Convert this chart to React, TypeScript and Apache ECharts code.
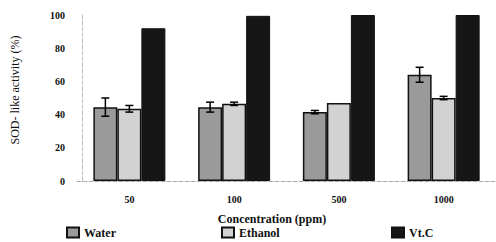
import React, { useEffect, useRef } from "react";
import * as echarts from "echarts";

const categories = ["50", "100", "500", "1000"];
const seriesNames = ["Water", "Ethanol", "Vt.C"];
const waterValues = [44.5, 44.5, 41.5, 64];
const ethanolValues = [43.5, 46.5, 47, 50];
const vtcValues = [92, 99.5, 100, 100];
const waterErrors = [5.5, 3, 1, 4.5];
const ethanolErrors = [2, 1, 0, 1];
const yTicks = [0, 20, 40, 60, 80, 100];

const SERIF = "'Liberation Serif', 'DejaVu Serif', serif";

export default function App() {
  const ref = useRef<HTMLDivElement>(null);
  useEffect(() => {
    document.body.style.margin = "0";
    const chart = echarts.init(ref.current!, null, { renderer: "svg" });
    const barW = 24;
    const errSeries = (vals: number[], errs: number[], offset: number) => ({
      type: "custom",
      silent: true,
      z: 10,
      data: vals.map((v, i) => [i, v, errs[i]]),
      renderItem: (params: any, api: any) => {
        const i = api.value(0);
        const v = api.value(1);
        const e = api.value(2);
        if (!e) return null;
        const top = api.coord([i, v + e]);
        const bot = api.coord([i, v - e]);
        const x = top[0] + offset;
        const cap = 4;
        const style = { stroke: "#000", lineWidth: 1.5 };
        return {
          type: "group",
          children: [
            { type: "line", shape: { x1: x, y1: top[1], x2: x, y2: bot[1] }, style },
            { type: "line", shape: { x1: x - cap, y1: top[1], x2: x + cap, y2: top[1] }, style },
            { type: "line", shape: { x1: x - cap, y1: bot[1], x2: x + cap, y2: bot[1] }, style },
          ],
        };
      },
    });
    const legendCommon = {
      top: 226,
      padding: 0,
      itemWidth: 12,
      itemHeight: 10,
      itemGap: 6,
      textStyle: { fontFamily: SERIF, fontWeight: "bold", fontSize: 12, lineHeight: 13, color: "#111" },
      icon: "rect",
    };
    chart.setOption({
      animation: false,
      backgroundColor: "#fff",
      grid: { left: 77, right: -3, top: 15, bottom: 61 },
      legend: [
        { ...legendCommon, left: 66, data: [seriesNames[0]] },
        { ...legendCommon, left: 221, data: [seriesNames[1]] },
        { ...legendCommon, left: 391, data: [seriesNames[2]] },
      ],
      xAxis: {
        type: "category",
        data: categories,
        axisLine: { show: true, lineStyle: { color: "#aaa", type: "dashed", width: 1 } },
        axisTick: { show: false },
        axisLabel: { margin: 13, fontFamily: SERIF, fontWeight: "bold", fontSize: 10, color: "#111" },
      },
      yAxis: {
        type: "value",
        min: 0,
        max: 100,
        interval: 20,
        offset: -5,
        axisLine: { show: true, lineStyle: { color: "#bbb", type: "dashed", width: 1 } },
        axisTick: { show: false },
        splitLine: { show: false },
        axisLabel: {
          margin: 17,
          fontFamily: SERIF,
          fontWeight: "bold",
          fontSize: 10,
          color: "#111",
          formatter: (v: number) => (yTicks.includes(v) ? String(v) : ""),
        },
      },
      graphic: [
        {
          type: "text",
          x: 272,
          y: 219,
          style: {
            text: "Concentration (ppm)",
            fontFamily: SERIF,
            fontWeight: "bold",
            fontSize: 12,
            fill: "#111",
            align: "center",
            verticalAlign: "middle",
          },
        },
        {
          type: "text",
          x: 15,
          y: 90,
          rotation: Math.PI / 2,
          style: {
            text: "SOD- like activity (%)",
            fontFamily: SERIF,
            fontSize: 12,
            fill: "#111",
            align: "center",
            verticalAlign: "middle",
          },
        },
      ],
      series: [
        {
          name: seriesNames[0],
          type: "bar",
          data: waterValues,
          barWidth: barW,
          barGap: "0%",
          itemStyle: { color: "#9a9a9a", borderColor: "#111", borderWidth: 1.5 },
        },
        {
          name: seriesNames[1],
          type: "bar",
          data: ethanolValues,
          barWidth: barW,
          barGap: "0%",
          itemStyle: { color: "#d2d2d2", borderColor: "#111", borderWidth: 1.5 },
        },
        {
          name: seriesNames[2],
          type: "bar",
          data: vtcValues,
          barWidth: barW,
          barGap: "0%",
          itemStyle: { color: "#161616", borderColor: "#111", borderWidth: 1 },
        },
        errSeries(waterValues, waterErrors, -barW),
        errSeries(ethanolValues, ethanolErrors, 0),
      ],
    });
    return () => chart.dispose();
  }, []);
  return <div ref={ref} style={{ width: 496, height: 242 }} />;
}
